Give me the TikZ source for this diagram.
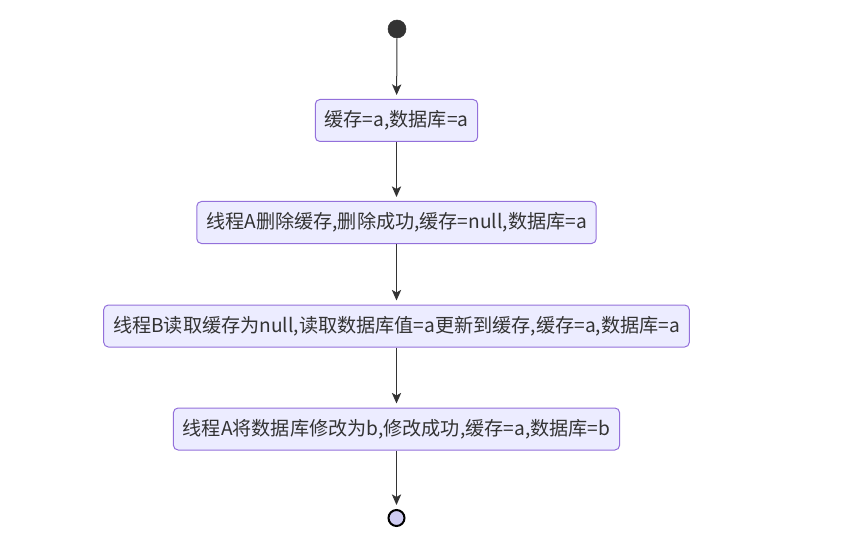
\documentclass[tikz,border=0pt]{standalone}
\usepackage{fontspec}
\setmainfont{Noto Sans CJK SC}
\usetikzlibrary{arrows.meta}
\definecolor{boxfill}{HTML}{ECECFF}
\definecolor{boxline}{HTML}{9370DB}
\definecolor{linec}{HTML}{333333}
\definecolor{endfill}{HTML}{CFCCF2}
\begin{document}
\begin{tikzpicture}[x=0.75pt,y=-0.75pt,
  statebox/.style={draw=boxline,fill=boxfill,rounded corners=3.5pt,line width=0.75pt,
    minimum height=31.5pt,inner xsep=7pt,font=\fontsize{14.35pt}{16pt}\selectfont,text=linec},
  flow/.style={draw=linec,line width=0.75pt,-{Stealth[length=8pt,width=7pt,inset=2pt]},shorten >=3pt}]
\useasboundingbox (0,0) rectangle (866,545);
\node[circle,fill=linec,draw=linec,minimum size=13.5pt,inner sep=0pt] (start) at (397,29) {};
\node[statebox] (s1) at (396.5,120.5) {缓存=a,数据库=a};
\node[statebox] (s2) at (396.5,222.5) {线程A删除缓存,删除成功,缓存=null,数据库=a};
\node[statebox] (s3) at (396.5,326) {线程B读取缓存为null,读取数据库值=a更新到缓存,缓存=a,数据库=a};
\node[statebox] (s4) at (396.5,429) {线程A将数据库修改为b,修改成功,缓存=a,数据库=b};
\node[circle,fill=endfill,draw=black,line width=1.5pt,minimum size=12pt,inner sep=0pt] (end) at (396.5,518) {};
\draw[flow] (start) -- (s1);
\draw[flow] (s1) -- (s2);
\draw[flow] (s2) -- (s3);
\draw[flow] (s3) -- (s4);
\draw[flow] (s4) -- (end);
\end{tikzpicture}
\end{document}
